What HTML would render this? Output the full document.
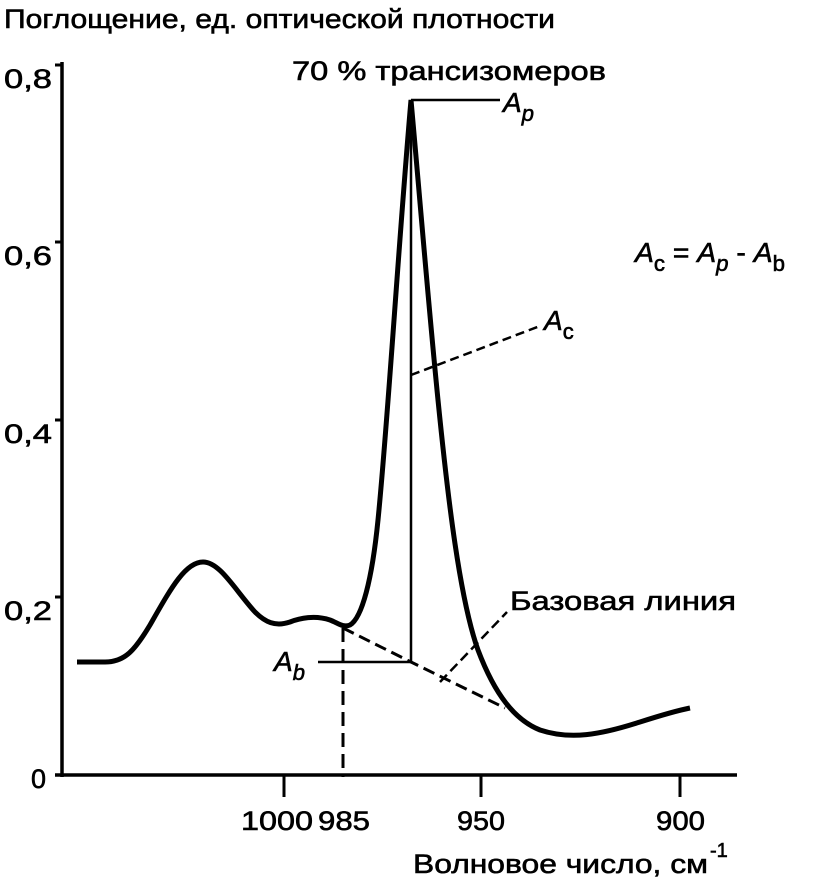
<!DOCTYPE html>
<html><head><meta charset="utf-8"><style>
body{margin:0;background:#fff}
svg{display:block}
text{font-family:"Liberation Sans",sans-serif;fill:#000;stroke:#000;stroke-width:0.6}
</style></head><body>
<svg width="815" height="884" viewBox="0 0 815 884">
<g stroke="#000" fill="none">
<line x1="62" y1="62" x2="62" y2="777" stroke-width="3.5"/>
<line x1="55" y1="775" x2="737" y2="775" stroke-width="3.5"/>
<line x1="55" y1="65" x2="62" y2="65" stroke-width="3"/>
<line x1="55" y1="242" x2="62" y2="242" stroke-width="3"/>
<line x1="55" y1="420" x2="62" y2="420" stroke-width="3"/>
<line x1="55" y1="597" x2="62" y2="597" stroke-width="3"/>
<line x1="284" y1="775" x2="284" y2="797" stroke-width="3"/>
<line x1="481" y1="775" x2="481" y2="797" stroke-width="3"/>
<line x1="680" y1="775" x2="680" y2="797" stroke-width="3"/>
<path d="M77,662 L105,662 C125,662 135,650 150,625 C170,590 185,562 203,562 C220,562 235,590 255,612 C265,622 275,627 290,622 C300,618 315,615 330,620 C338,623 343,628 350,625 C362,618 372,580 378,520 C388,420 398,250 411,100 C420,200 428,300 438,400 C448,500 460,600 478,650 C495,695 515,720 540,730 C570,740 600,735 640,722 C665,714 680,710 690,708" stroke-width="5"/>
<line x1="411" y1="100" x2="411" y2="662" stroke-width="2.5"/>
<line x1="411" y1="100" x2="500" y2="100" stroke-width="2.5"/>
<line x1="318" y1="662" x2="411" y2="662" stroke-width="2.5"/>
<path d="M343,628 L411,662 L505,708" stroke-width="3" stroke-dasharray="12,6"/>
<line x1="343" y1="628" x2="343" y2="777" stroke-width="3" stroke-dasharray="14,7"/>
<line x1="411" y1="375" x2="540" y2="326" stroke-width="2.5" stroke-dasharray="9,5"/>
<line x1="440" y1="682" x2="507" y2="612" stroke-width="2.5" stroke-dasharray="10,5"/>
</g>
<g font-size="27">
<text x="4" y="28" textLength="551" lengthAdjust="spacingAndGlyphs">Поглощение, ед. оптической плотности</text>
<text x="292" y="80" textLength="314" lengthAdjust="spacingAndGlyphs">70 % трансизомеров</text>
<text x="4" y="88" textLength="48" lengthAdjust="spacingAndGlyphs">0,8</text>
<text x="4" y="265" textLength="48" lengthAdjust="spacingAndGlyphs">0,6</text>
<text x="4" y="443" textLength="48" lengthAdjust="spacingAndGlyphs">0,4</text>
<text x="4" y="620" textLength="48" lengthAdjust="spacingAndGlyphs">0,2</text>
<text x="31" y="788">0</text>
<text x="241" y="830" textLength="72" lengthAdjust="spacingAndGlyphs">1000</text>
<text x="318" y="830" textLength="52" lengthAdjust="spacingAndGlyphs">985</text>
<text x="457" y="830" textLength="48" lengthAdjust="spacingAndGlyphs">950</text>
<text x="656" y="830" textLength="49" lengthAdjust="spacingAndGlyphs">900</text>
<text x="413" y="873" textLength="295" lengthAdjust="spacingAndGlyphs">Волновое число, см</text>
<text x="710" y="857" font-size="20">-1</text>
<text x="510" y="610" textLength="226" lengthAdjust="spacingAndGlyphs">Базовая линия</text>
<text x="503" y="112" font-style="italic" font-size="28">A<tspan font-size="22" dy="9">p</tspan></text>
<text x="544" y="330" font-style="italic" font-size="28">A<tspan font-size="22" dy="9" font-style="normal">c</tspan></text>
<text x="274" y="671" font-style="italic" font-size="28">A<tspan font-size="22" dy="9">b</tspan></text>
<text x="635" y="262" font-style="italic" font-size="28" textLength="150" lengthAdjust="spacingAndGlyphs">A<tspan font-size="22" dy="9" font-style="normal">c</tspan><tspan dy="-9" font-style="normal"> = </tspan>A<tspan font-size="22" dy="9">p</tspan><tspan dy="-9" font-style="normal"> - </tspan>A<tspan font-size="22" dy="9" font-style="normal">b</tspan></text>
</g>
</svg>
</body></html>
